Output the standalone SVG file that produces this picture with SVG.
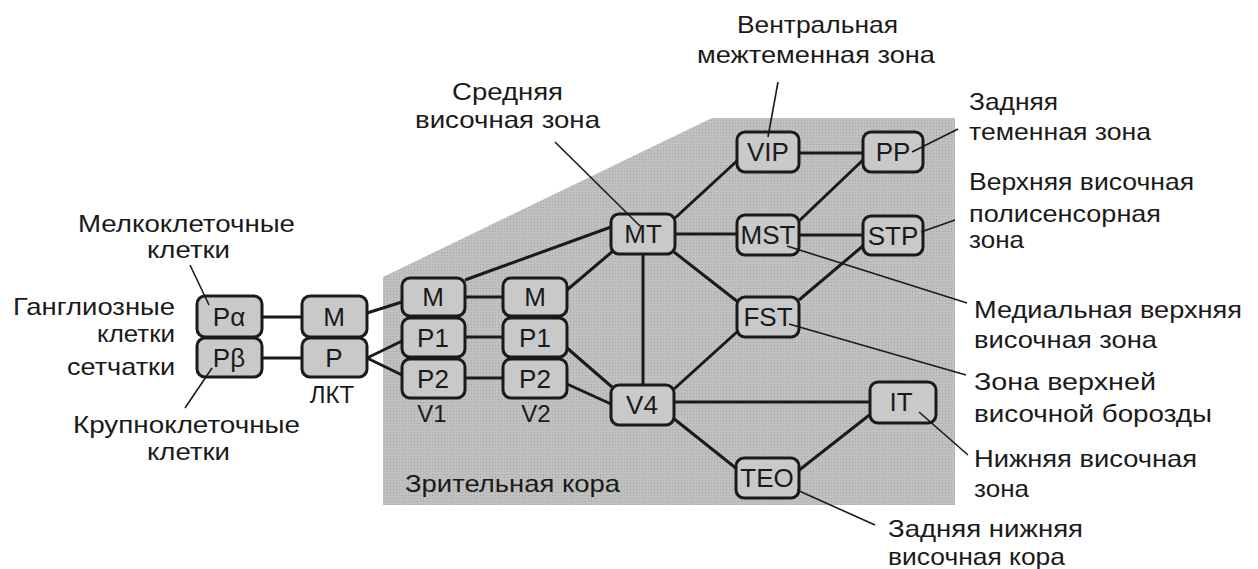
<svg xmlns="http://www.w3.org/2000/svg" width="1258" height="569" viewBox="0 0 1258 569">
<defs>
<pattern id="dots" width="3" height="3" patternUnits="userSpaceOnUse">
<rect width="3" height="3" fill="#c0c0c0"/>
<rect width="1" height="1" fill="#a4a4a4"/>
</pattern>
<style>
.box{fill:#c9c9c9;stroke:#1a1a1a;stroke-width:3}
.nt{font-family:"Liberation Sans",Arial,sans-serif;font-size:26px;fill:#1a1a1a;text-anchor:middle}
.lb{font-family:"Liberation Sans",Arial,sans-serif;font-size:24px;fill:#1a1a1a}
.c{stroke:#1a1a1a;stroke-width:3;fill:none}
.p{stroke:#1a1a1a;stroke-width:1.6;fill:none}
</style>
</defs>
<rect width="1258" height="569" fill="#ffffff"/>
<polygon id="cortex" points="383,277 712,118 955,118 955,505 383,505" fill="url(#dots)"/>

<g id="connectors">
<line class="c" x1="262" y1="317" x2="302" y2="317"/>
<line class="c" x1="262" y1="358" x2="302" y2="358"/>
<line class="c" x1="367" y1="313" x2="402" y2="302"/>
<line class="c" x1="367" y1="358" x2="402" y2="341"/>
<line class="c" x1="367" y1="358" x2="402" y2="375"/>
<line class="c" x1="465" y1="297" x2="503" y2="297"/>
<line class="c" x1="465" y1="337" x2="503" y2="337"/>
<line class="c" x1="465" y1="378" x2="503" y2="378"/>
<line class="c" x1="465" y1="280" x2="611" y2="227"/>
<line class="c" x1="567" y1="290" x2="613" y2="251"/>
<line class="c" x1="567" y1="348" x2="612" y2="387"/>
<line class="c" x1="567" y1="384" x2="611" y2="404"/>
<line class="c" x1="643" y1="254" x2="643" y2="385"/>
<line class="c" x1="675" y1="218" x2="738" y2="160"/>
<line class="c" x1="675" y1="234" x2="737" y2="234"/>
<line class="c" x1="674" y1="252" x2="738" y2="302"/>
<line class="c" x1="674" y1="389" x2="738" y2="331"/>
<line class="c" x1="674" y1="402" x2="870" y2="402"/>
<line class="c" x1="673" y1="418" x2="737" y2="469"/>
<line class="c" x1="798" y1="471" x2="872" y2="413"/>
<line class="c" x1="799" y1="153" x2="863" y2="153"/>
<line class="c" x1="798" y1="222" x2="864" y2="159"/>
<line class="c" x1="799" y1="235" x2="863" y2="235"/>
<line class="c" x1="799" y1="300" x2="864" y2="245"/>
</g>

<g id="node-Pa"><rect class="box" x="197" y="296" width="65" height="41" rx="8"/><text class="nt" x="229" y="326">Pα</text></g>
<g id="node-Pb"><rect class="box" x="197" y="338" width="65" height="39" rx="8"/><text class="nt" x="229" y="367">Pβ</text></g>
<g id="node-LGN-M"><rect class="box" x="302" y="296" width="65" height="41" rx="8"/><text class="nt" x="334" y="326">M</text></g>
<g id="node-LGN-P"><rect class="box" x="302" y="338" width="65" height="39" rx="8"/><text class="nt" x="334" y="367">P</text></g>
<g id="node-V1-M"><rect class="box" x="402" y="278" width="63" height="38" rx="8"/><text class="nt" x="433" y="306">M</text></g>
<g id="node-V1-P1"><rect class="box" x="402" y="318" width="63" height="39" rx="8"/><text class="nt" x="433" y="347">P1</text></g>
<g id="node-V1-P2"><rect class="box" x="402" y="359" width="63" height="39" rx="8"/><text class="nt" x="433" y="388">P2</text></g>
<g id="node-V2-M"><rect class="box" x="503" y="278" width="64" height="38" rx="8"/><text class="nt" x="535" y="306">M</text></g>
<g id="node-V2-P1"><rect class="box" x="503" y="318" width="64" height="39" rx="8"/><text class="nt" x="535" y="347">P1</text></g>
<g id="node-V2-P2"><rect class="box" x="503" y="359" width="64" height="39" rx="8"/><text class="nt" x="535" y="388">P2</text></g>
<g id="node-MT"><rect class="box" x="611" y="214" width="64" height="40" rx="8"/><text class="nt" x="643" y="243">MT</text></g>
<g id="node-V4"><rect class="box" x="611" y="385" width="63" height="40" rx="8"/><text class="nt" x="642" y="414">V4</text></g>
<g id="node-VIP"><rect class="box" x="737" y="132" width="62" height="40" rx="8"/><text class="nt" x="768" y="161">VIP</text></g>
<g id="node-PP"><rect class="box" x="863" y="132" width="60" height="40" rx="8"/><text class="nt" x="893" y="161">PP</text></g>
<g id="node-MST"><rect class="box" x="737" y="215" width="62" height="40" rx="8"/><text class="nt" x="768" y="244">MST</text></g>
<g id="node-STP"><rect class="box" x="863" y="216" width="60" height="39" rx="8"/><text class="nt" x="893" y="245">STP</text></g>
<g id="node-FST"><rect class="box" x="737" y="297" width="62" height="40" rx="8"/><text class="nt" x="768" y="326">FST</text></g>
<g id="node-IT"><rect class="box" x="870" y="382" width="66" height="41" rx="8"/><text class="nt" x="901" y="411">IT</text></g>
<g id="node-TEO"><rect class="box" x="736" y="458" width="63" height="40" rx="8"/><text class="nt" x="767" y="487">TEO</text></g>

<g id="pointers">
<line class="p" x1="190" y1="265" x2="209" y2="305"/>
<line class="p" x1="185" y1="408" x2="212" y2="368"/>
<line class="p" x1="555" y1="142" x2="640" y2="226"/>
<line class="p" x1="778" y1="82" x2="768" y2="137"/>
<line class="p" x1="912" y1="152" x2="958" y2="129"/>
<line class="p" x1="921" y1="232" x2="955" y2="220"/>
<line class="p" x1="787" y1="246" x2="967" y2="303"/>
<line class="p" x1="789" y1="324" x2="966" y2="375"/>
<line class="p" x1="919" y1="412" x2="968" y2="455"/>
<line class="p" x1="797" y1="490" x2="875" y2="525"/>
</g>

<g id="labels">
<text class="lb" x="78" y="232" textLength="217" lengthAdjust="spacingAndGlyphs">Мелкоклеточные</text>
<text class="lb" x="147" y="258" textLength="83" lengthAdjust="spacingAndGlyphs">клетки</text>
<text class="lb" x="13" y="315" textLength="162" lengthAdjust="spacingAndGlyphs">Ганглиозные</text>
<text class="lb" x="97" y="342" textLength="78" lengthAdjust="spacingAndGlyphs">клетки</text>
<text class="lb" x="67" y="375" textLength="108" lengthAdjust="spacingAndGlyphs">сетчатки</text>
<text class="lb" x="332" y="403" text-anchor="middle">ЛКТ</text>
<text class="lb" x="73" y="433" textLength="227" lengthAdjust="spacingAndGlyphs">Крупноклеточные</text>
<text class="lb" x="147" y="460" textLength="83" lengthAdjust="spacingAndGlyphs">клетки</text>
<text class="lb" x="432" y="422" text-anchor="middle">V1</text>
<text class="lb" x="536" y="422" text-anchor="middle">V2</text>
<text class="lb" x="405" y="492" textLength="215" lengthAdjust="spacingAndGlyphs">Зрительная кора</text>
<text class="lb" x="452" y="100" textLength="111" lengthAdjust="spacingAndGlyphs">Средняя</text>
<text class="lb" x="415" y="128" textLength="185" lengthAdjust="spacingAndGlyphs">височная зона</text>
<text class="lb" x="737" y="33" textLength="161" lengthAdjust="spacingAndGlyphs">Вентральная</text>
<text class="lb" x="697" y="63" textLength="238" lengthAdjust="spacingAndGlyphs">межтеменная зона</text>
<text class="lb" x="969" y="110" textLength="89" lengthAdjust="spacingAndGlyphs">Задняя</text>
<text class="lb" x="969" y="140" textLength="182" lengthAdjust="spacingAndGlyphs">теменная зона</text>
<text class="lb" x="969" y="190" textLength="225" lengthAdjust="spacingAndGlyphs">Верхняя височная</text>
<text class="lb" x="969" y="222" textLength="192" lengthAdjust="spacingAndGlyphs">полисенсорная</text>
<text class="lb" x="969" y="248" textLength="55" lengthAdjust="spacingAndGlyphs">зона</text>
<text class="lb" x="974" y="318" textLength="268" lengthAdjust="spacingAndGlyphs">Медиальная верхняя</text>
<text class="lb" x="974" y="348" textLength="183" lengthAdjust="spacingAndGlyphs">височная зона</text>
<text class="lb" x="974" y="390" textLength="182" lengthAdjust="spacingAndGlyphs">Зона верхней</text>
<text class="lb" x="974" y="422" textLength="238" lengthAdjust="spacingAndGlyphs">височной борозды</text>
<text class="lb" x="974" y="467" textLength="223" lengthAdjust="spacingAndGlyphs">Нижняя височная</text>
<text class="lb" x="974" y="497" textLength="55" lengthAdjust="spacingAndGlyphs">зона</text>
<text class="lb" x="888" y="537" textLength="195" lengthAdjust="spacingAndGlyphs">Задняя нижняя</text>
<text class="lb" x="888" y="565" textLength="177" lengthAdjust="spacingAndGlyphs">височная кора</text>
</g>
</svg>
